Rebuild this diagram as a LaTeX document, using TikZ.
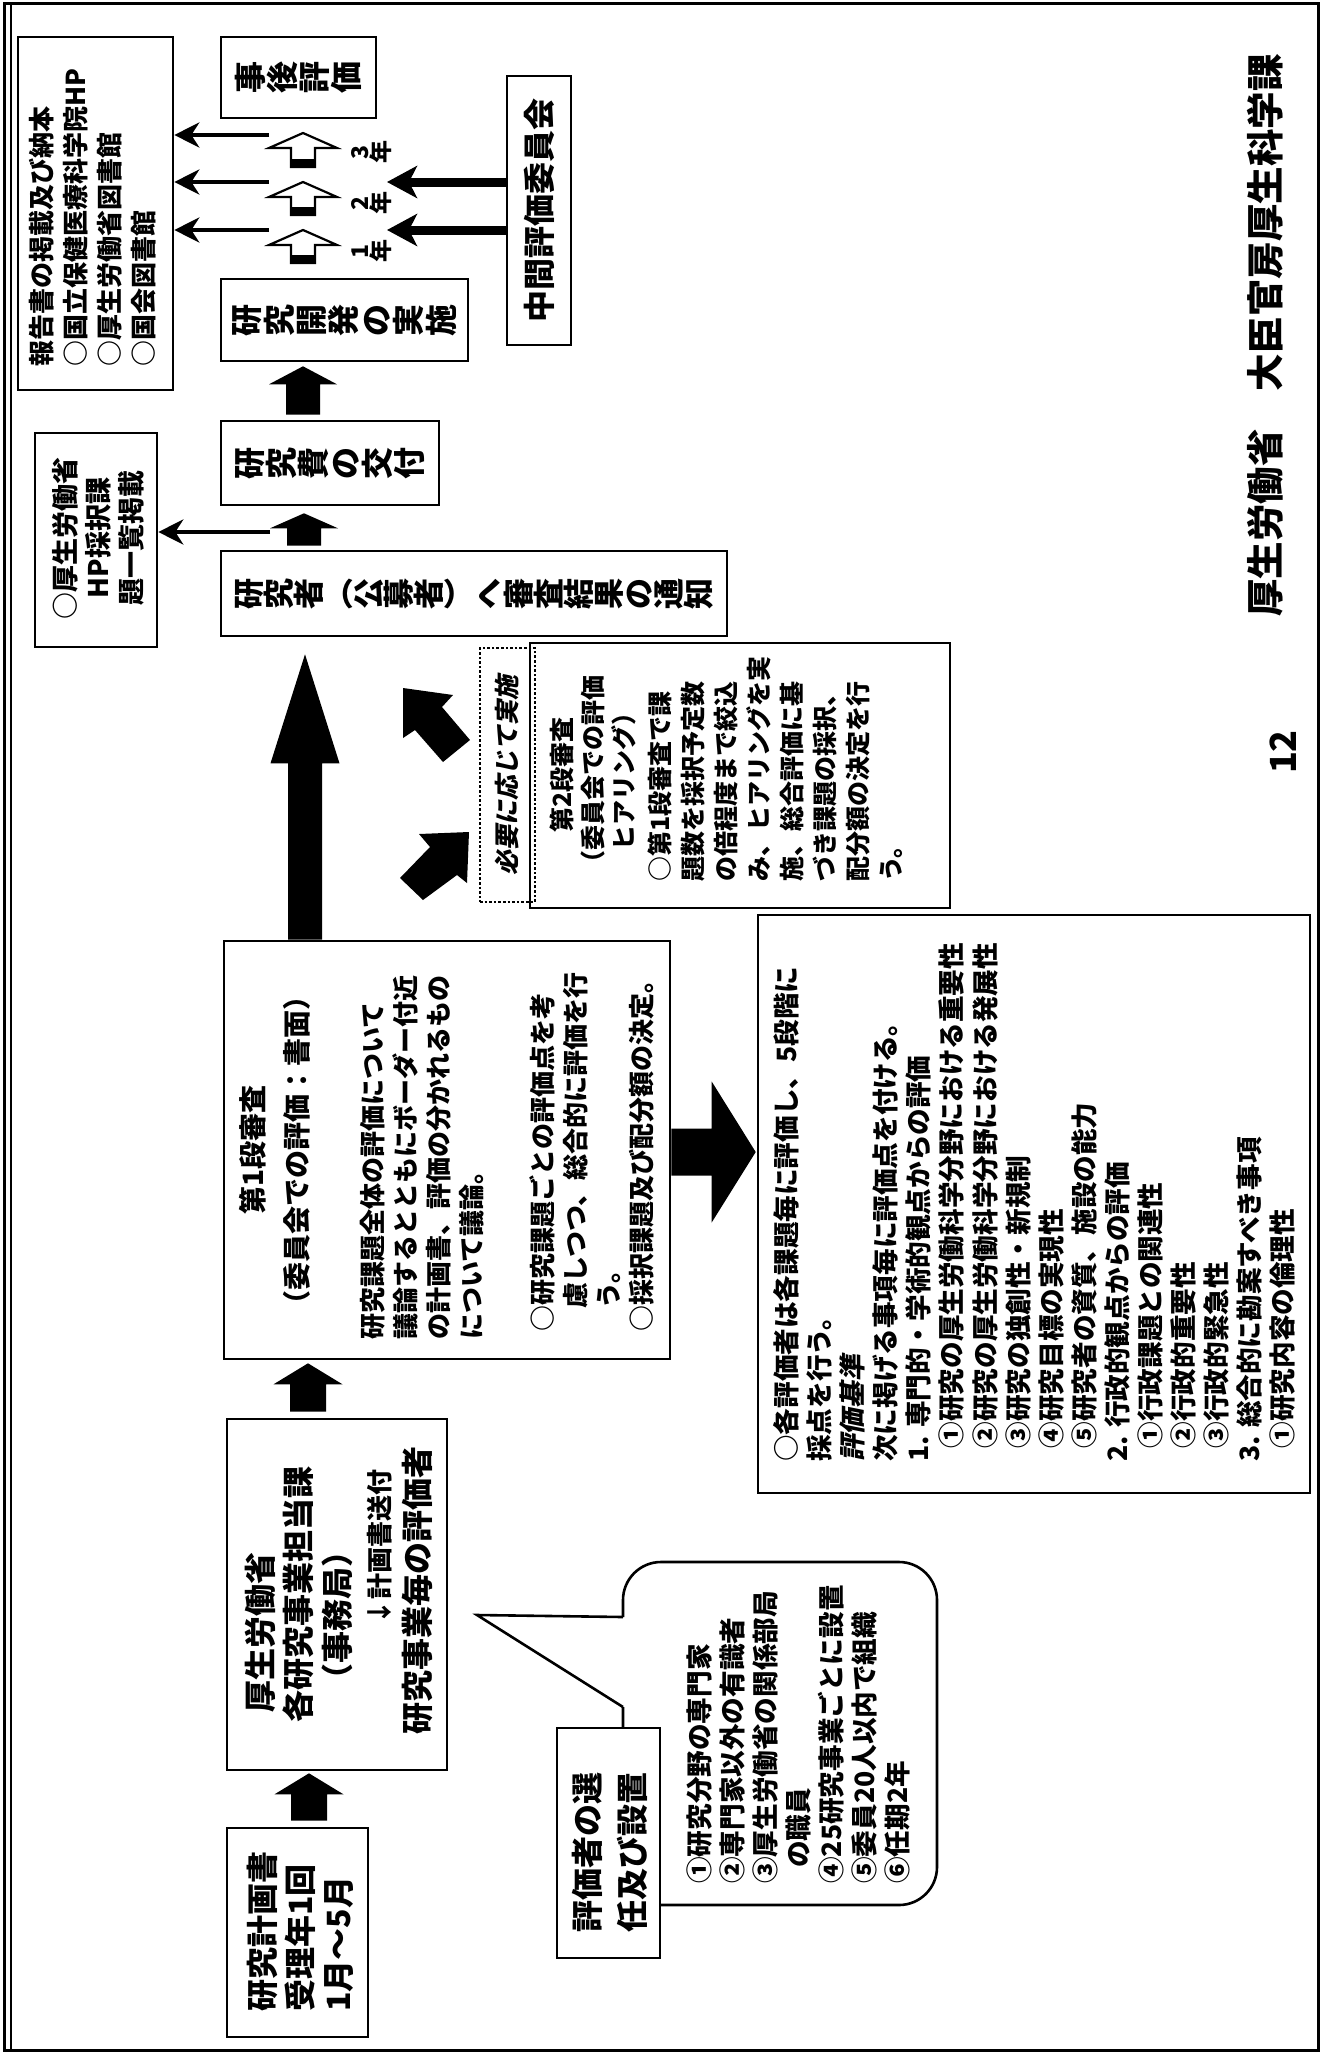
\documentclass[tikz,border=0pt]{standalone}
\usepackage{fontspec}
\setmainfont{Noto Sans CJK JP}
\newfontfamily\jpsl{Noto Sans CJK JP}[FakeSlant=0.2]
\usetikzlibrary{arrows.meta,calc}
% block arrow pointing up: [options]{bottom}{tip}{shaft half}{head half}{head length}
\newcommand\blockup[6][fill=black]{\path[#1] let \p1=(#2), \p2=(#3) in
  (\x2-#4,\y1) -- (\x2-#4,\y2-#6) -- (\x2-#5,\y2-#6) -- (\x2,\y2) --
  (\x2+#5,\y2-#6) -- (\x2+#4,\y2-#6) -- (\x2+#4,\y1) -- cycle;}
% block arrow pointing right: {start}{tip}{shaft half}{head half}{head length}
\newcommand\blockright[5]{\fill let \p1=(#1), \p2=(#2) in
  (\x1,\y2+#3) -- (\x2-#5,\y2+#3) -- (\x2-#5,\y2+#4) -- (\x2,\y2) --
  (\x2-#5,\y2-#4) -- (\x2-#5,\y2-#3) -- (\x1,\y2-#3) -- cycle;}
\begin{document}
\lineskiplimit=-20pt
\lineskip=0pt
\begin{tikzpicture}[x=0.5pt,y=-0.5pt,
  box/.style={draw, line width=1.3pt, inner sep=0pt},
  rt/.style={rotate=90, inner sep=0pt},
  jp/.style 2 args={font=\fontsize{#1}{#2}\selectfont\bfseries},
  tate/.style 2 args={rotate=90, inner sep=0pt, align=center,
     font=\fontsize{#1}{#2}\selectfont\bfseries},
  thinarr/.style={line width=2pt, -{Stealth[length=12.5pt,width=12.5pt,inset=4pt]}},
  thickarr/.style={line width=4.5pt, -{Stealth[length=15pt,width=16pt,inset=4pt]}},
]
\useasboundingbox (0,0) rectangle (1323,2055);
% page frame
\draw[line width=1.5pt] (4,4) rectangle (1318,2050);
\draw[line width=1.2pt] (11,4) -- (11,2050);

% ---------- boxes ----------
\node[box, minimum width=77.5pt, minimum height=176.5pt] (report) at (95.5,213.5) {};
\node[box, minimum width=77.5pt, minimum height=40.5pt] (jigo) at (298.5,77.5) {};
\node[box, minimum width=123.5pt, minimum height=41pt] (kaihatsu) at (344.5,320) {};
\node[box, minimum width=32pt, minimum height=134.5pt] (chukan) at (539,210.5) {};
\node[box, minimum width=109pt, minimum height=42pt] (kofu) at (330,463) {};
\node[box, minimum width=61pt, minimum height=107pt] (hp) at (96,540) {};
\node[box, minimum width=253pt, minimum height=42.5pt] (tsuchi) at (474,593.5) {};
\node[box, minimum width=210pt, minimum height=132.5pt] (stage2) at (740,775.5) {};
\node[draw, densely dotted, line width=1.3pt, inner sep=0pt, minimum width=27.5pt, minimum height=127pt] (hitsuyo) at (507.5,775) {};
\node[box, minimum width=223pt, minimum height=209pt] (stage1) at (447,1150) {};
\node[box, minimum width=276pt, minimum height=289pt] (criteria) at (1034,1204) {};
\node[box, minimum width=110pt, minimum height=175.5pt] (mhlw) at (337,1594.5) {};
\node[box, minimum width=70.5pt, minimum height=104.5pt] (plan) at (297.5,1932.5) {};

% speech bubble
\coordinate (ptip) at (477,1615);
\draw[line width=1.3pt, rounded corners=19pt] (623,1617) -- (623,1562) -- (937,1562) -- (937,1905) -- (623,1905) -- (623,1707);
\draw[line width=1.3pt] (623,1617) -- (ptip) -- (623,1707);
\node[box, fill=white, minimum width=51.5pt, minimum height=115pt] (hyokasha) at (608.5,1843) {};

% ---------- texts ----------
\node[rt, jp={13pt}{17pt}, align=left, anchor=west] (report-t) at (93,367)
  {報告書の掲載及び納本\\○国立保健医療科学院HP\\○厚生労働省図書館\\○国会図書館};
\node[tate={16pt}{16pt}] (jigo-t) at (298.5,77.5) {事\\後\\評\\価};
\node[tate={16pt}{16.2pt}] (kaihatsu-t) at (344.5,320) {研\\究\\開\\発\\の\\実\\施};
\node[rt, jp={16pt}{18pt}] (chukan-t) at (539,210.5) {中間評価委員会};
\node[tate={16pt}{16pt}] (kofu-t) at (330,463) {研\\究\\費\\の\\交\\付};
\node[rt, jp={13.5pt}{16.5pt}, align=center] (hp-t) at (98,538) {○厚生労働省\\HP採択課\\題一覧掲載};
\node[tate={15.5pt}{15pt}] (tsuchi-t) at (474,593.5) {研\\究\\者\\︵\\公\\募\\者\\︶\\へ\\審\\査\\結\\果\\の\\通\\知};
\node[rt, font=\fontsize{12.5pt}{15pt}\selectfont\jpsl\bfseries] (hitsuyo-t) at (507.5,775) {必要に応じて実施};
\node[rt, jp={12.5pt}{15.5pt}, align=center] (s2h) at (593,775) {第2段審査\\（委員会での評価\\ヒアリング）};
\node[rt, jp={12.5pt}{16.5pt}, align=left, anchor=west] (s2b) at (775,882)
  {○第1段審査で課\\題数を採択予定数\\の倍程度まで絞込\\み、ヒアリングを実\\施、総合評価に基\\づき課題の採択、\\配分額の決定を行\\う。};
\node[rt, jp={14pt}{22pt}, align=center] (s1h) at (275,1150) {第1段審査\\（委員会での評価：書面）};
\node[rt, jp={13pt}{16.5pt}, align=left, anchor=west] (s1a) at (422,1340)
  {研究課題全体の評価について\\議論するとともにボーダー付近\\の計画書、評価の分かれるもの\\について議論。};
\node[rt, jp={13pt}{16.5pt}, align=left, anchor=west] (s1b) at (592,1332)
  {○研究課題ごとの評価点を考\\\hspace*{0.9em}慮しつつ、総合的に評価を行\\\hspace*{0.9em}う。\\○採択課題及び配分額の決定。};
\node[rt, jp={13.3pt}{16.55pt}, align=left, anchor=west] (crit-t) at (1034.5,1462)
  {○各評価者は各課題毎に評価し、5段階に\\
   採点を行う。\\
   {\jpsl 評価基準}\\
   次に掲げる事項毎に評価点を付ける。\\
   1. 専門的・学術的観点からの評価\\
   \hspace*{0.5em}①研究の厚生労働科学分野における重要性\\
   \hspace*{0.5em}②研究の厚生労働科学分野における発展性\\
   \hspace*{0.5em}③研究の独創性・新規制\\
   \hspace*{0.5em}④研究目標の実現性\\
   \hspace*{0.5em}⑤研究者の資質、施設の能力\\
   2. 行政的観点からの評価\\
   \hspace*{0.5em}①行政課題との関連性\\
   \hspace*{0.5em}②行政的重要性\\
   \hspace*{0.5em}③行政的緊急性\\
   3. 総合的に勘案すべき事項\\
   \hspace*{0.5em}①研究内容の倫理性};
\node[rt, jp={16pt}{18pt}] (mh1) at (260,1632) {厚生労働省};
\node[rt, jp={16pt}{18pt}] (mh2) at (298,1594) {各研究事業担当課};
\node[rt, jp={16pt}{18pt}] (mh3) at (337,1615) {（事務局）};
\node[rt, jp={13pt}{15pt}] (mh4) at (380,1547) {↓計画書送付};
\node[rt, jp={16pt}{18pt}] (mh5) at (417,1590) {研究事業毎の評価者};
\node[rt, jp={16pt}{19pt}, align=left, anchor=west] (plan-t) at (300,2012) {研究計画書\\受理年1回\\1月～5月};
\node[rt, jp={16pt}{22.5pt}, align=left, anchor=west] (hyo-t) at (609.5,1933) {評価者の選\\任及び設置};
\node[rt, jp={13.3pt}{16.5pt}, align=left, anchor=west] (bub-t) at (798,1884)
  {①研究分野の専門家\\②専門家以外の有識者\\③厚生労働省の関係部局\\\hspace*{0.6em}の職員\\④25研究事業ごとに設置\\⑤委員20人以内で組織\\⑥任期2年};
\node[rt, jp={18.75pt}{20pt}] (title) at (1265,335.5) {厚生労働省　大臣官房厚生科学課};
\node[rt, jp={18pt}{20pt}] (pageno) at (1283,752) {12};
\node[tate={11.5pt}{10.5pt}] (y3) at (372,152) {3\\年};
\node[tate={11.5pt}{10.5pt}] (y2) at (372,203) {2\\年};
\node[tate={11.5pt}{10.5pt}] (y1) at (372,251) {1\\年};

% ---------- year arrows (hollow) ----------
\coordinate (h3b) at (303,167); \coordinate (h3t) at (303,133);
\coordinate (h2b) at (303,215); \coordinate (h2t) at (303,182);
\coordinate (h1b) at (303,263); \coordinate (h1t) at (303,230);
\foreach \b/\t in {h3b/h3t,h2b/h2t,h1b/h1t}{
  \blockup[draw, line width=1.1pt, fill=white]{\b}{\t}{6pt}{17pt}{7.5pt}
  \fill ($(\b)+(-12,-8)$) rectangle ($(\b)+(12,0)$);
}
% publication arrows
\coordinate (r3) at (269,135);
\coordinate (r2) at (269,182);
\coordinate (r1) at (269,230);
\foreach \r in {r3,r2,r1}{\draw[thinarr] (\r) -- (report.east |- \r);}
% interim evaluation arrows
\coordinate (m2) at (387,182);
\coordinate (m1) at (387,230);
\draw[thickarr] (chukan.west |- m2) -- (m2);
\draw[thickarr] (chukan.west |- m1) -- (m1);
% HP arrow
\coordinate (hps) at (270,532);
\draw[thinarr] (hps) -- (hp.east |- hps);

% ---------- black block arrows ----------
\coordinate (cA) at (309,0);
\coordinate (cB) at (308,0);
\coordinate (cC) at (305,0);
\coordinate (cD) at (304,0);
\coordinate (cE) at (303,0);
\blockup{$(plan.north -| cA)+(0,-6)$}{$(mhlw.south -| cA)+(0,2)$}{9pt}{17.25pt}{10.5pt}
\blockup{$(mhlw.north -| cB)+(0,-6)$}{$(stage1.south -| cB)+(0,3)$}{9pt}{17.25pt}{10.5pt}
\blockup{$(stage1.north -| cC)$}{$(tsuchi.south -| cC)+(0,17)$}{8.5pt}{17.25pt}{54.5pt}
\blockup{$(tsuchi.north -| cD)+(0,-4)$}{$(kofu.south -| cD)+(0,7)$}{8.5pt}{17pt}{7.5pt}
\blockup{$(kofu.north -| cE)+(0,-5)$}{$(kaihatsu.south -| cE)+(0,4)$}{8.5pt}{17pt}{9pt}
\blockright{$(stage1.east)+(0,2)$}{$(criteria.west |- stage1.east)+(-1,2)$}{11.75pt}{35.25pt}{22pt}
% diagonal arrows to / from second stage
\fill (403,688) -- (453,695) -- (442,707) -- (470,740) -- (443,762) -- (415,730) -- (403,738) -- cycle;
\fill (469,832) -- (467,883) -- (457,875) -- (423,900) -- (400,878) -- (430,847) -- (419,834) -- cycle;
\end{tikzpicture}
\end{document}
